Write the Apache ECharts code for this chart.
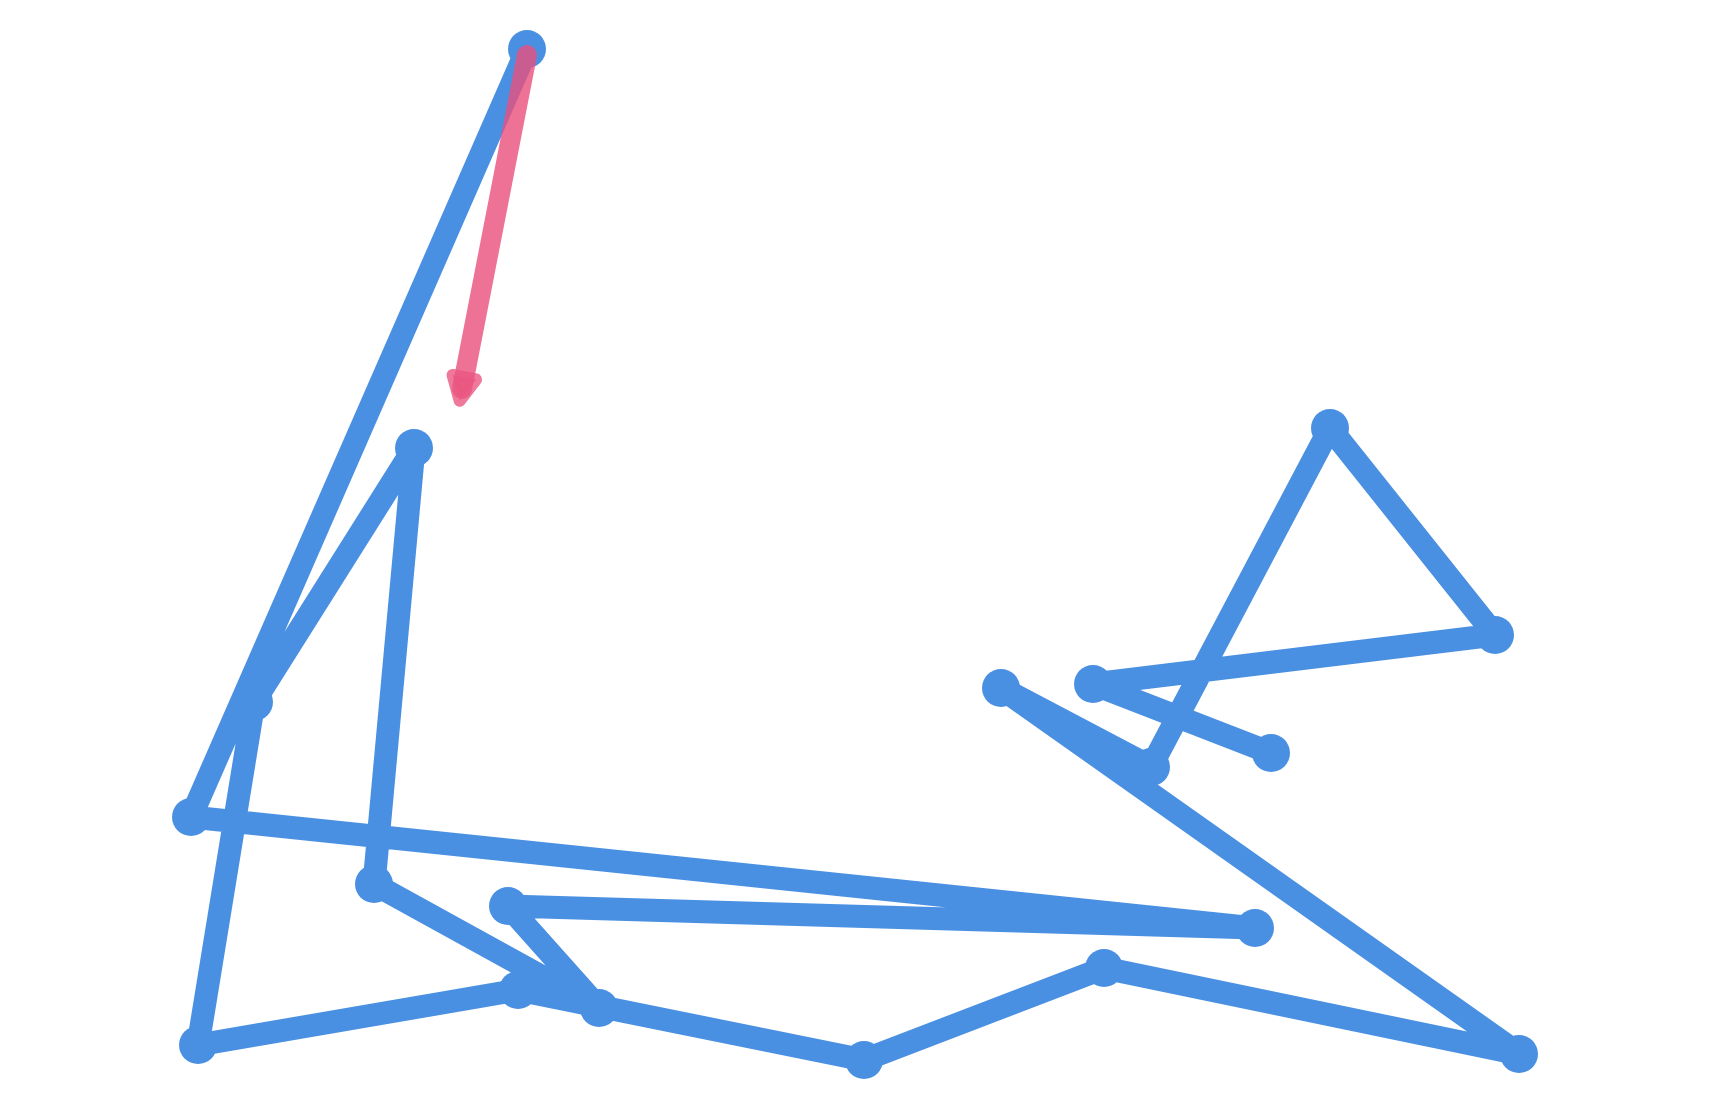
<!DOCTYPE html>
<html>
<head>
<meta charset="utf-8">
<script src="https://cdn.jsdelivr.net/npm/echarts@6/dist/echarts.min.js"></script>
<style>
html,body{margin:0;padding:0;background:#fff;}
#chart{width:1710px;height:1110px;}
</style>
</head>
<body>
<div id="chart"></div>
<script>
// Path points in drawing order (x, y values)
const pathX = [52.7, 19.1, 125.5, 50.8, 59.9, 37.4, 41.4, 25.4, 19.8, 51.8, 86.4, 110.4, 151.9, 100.1, 115.1, 133.0, 149.5, 109.3, 127.1];
const pathY = [106.1, 29.3, 18.2, 20.4, 10.2, 22.6, 66.2, 40.8, 6.5, 12.0, 5.0, 14.2, 5.6, 42.2, 34.3, 68.2, 47.5, 42.6, 35.7];
// Direction arrow: start point and arrow-head point
const arrowX = [52.7, 46.2];
const arrowY = [105.5, 72.1];

const pathData = pathX.map((x, i) => [x, pathY[i]]);
const arrowLine = arrowX.map((x, i) => [x, arrowY[i]]);

const chart = echarts.init(document.getElementById('chart'));
chart.setOption({
  animation: false,
  grid: {left: 0, right: 0, top: 0, bottom: 0},
  xAxis: {type: 'value', min: 0, max: 171, show: false},
  yAxis: {type: 'value', min: 0, max: 111, show: false},
  series: [{
    type: 'line',
    data: pathData,
    symbol: 'circle',
    symbolSize: 38,
    itemStyle: {color: '#4a90e2'},
    lineStyle: {color: '#4a90e2', width: 23, cap: 'round', join: 'round'},
    z: 2
  }, {
    type: 'line',
    data: arrowLine,
    symbol: 'none',
    lineStyle: {color: '#e94f7c', width: 20, opacity: 0.8, cap: 'round'},
    z: 3
  }, {
    type: 'scatter',
    data: [arrowLine[1]],
    symbol: 'triangle',
    symbolSize: [24, 24],
    symbolRotate: 169,
    itemStyle: {color: '#ea5881', borderColor: '#ea5881', borderWidth: 12, borderJoin: 'round'},
    z: 4
  }]
});
</script>
</body>
</html>
